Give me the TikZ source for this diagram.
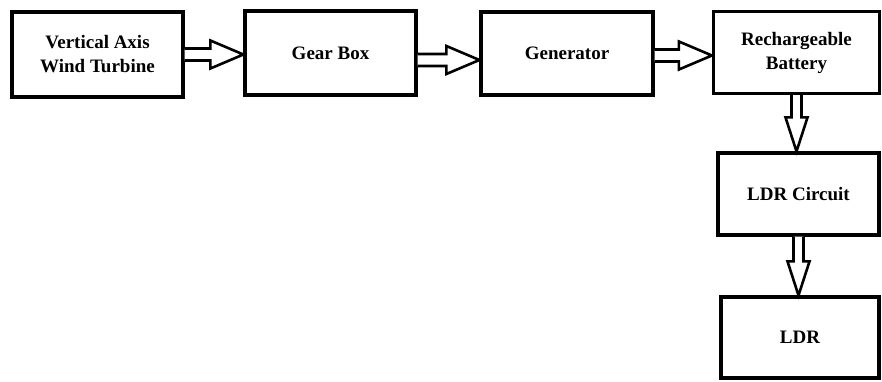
\documentclass[tikz,border=0pt]{standalone}
\usepackage{fontspec}
\setmainfont{Liberation Serif}
\usetikzlibrary{calc}

\tikzset{
  block/.style={draw, line width=3.2pt, fill=white, align=center,
    font=\fontsize{19}{24}\selectfont\bfseries, inner sep=0pt},
  fat/.style={draw, line width=2.6pt, line join=miter, fill=white}
}

% hollow block arrows: horizontal (from, to, vertical offset) and vertical (from, to)
\newcommand\harrow[3]{%
  \draw[fat] let \p1=(#1.east), \p2=(#2.west), \n1={\y1+#3} in
    (\x1,\n1+6pt) -- (\x2-33pt,\n1+6pt) -- (\x2-33pt,\n1+14pt) -- (\x2,\n1)
    -- (\x2-33pt,\n1-14pt) -- (\x2-33pt,\n1-6pt) -- (\x1,\n1-6pt);}
\newcommand\varrow[2]{%
  \draw[fat] let \p1=(#1.south), \p2=(#2.north) in
    (\x1-5pt,\y1) -- (\x1-5pt,\y2+34pt) -- (\x1-11pt,\y2+34pt) -- (\x1,\y2)
    -- (\x1+11pt,\y2+34pt) -- (\x1+5pt,\y2+34pt) -- (\x1+5pt,\y1);}

\begin{document}
\begin{tikzpicture}[x=1pt, y=-1pt]
  \useasboundingbox (0,0) rectangle (882,381);

  \node[block, minimum width=171pt, minimum height=85pt] (vawt) at (97.5,54.5)
    {Vertical Axis\\Wind Turbine};
  \node[block, minimum width=171pt, minimum height=84pt] (gear) at (330.5,53) {Gear Box};
  \node[block, minimum width=172pt, minimum height=83pt] (gen) at (567,53.5) {Generator};
  \node[block, minimum width=166pt, minimum height=82pt] (bat) at (796.5,52.5)
    {Rechargeable\\Battery};
  \node[block, minimum width=161pt, minimum height=82pt] (ldrc) at (798.5,194) {LDR Circuit};
  \node[block, minimum width=158pt, minimum height=81pt] (ldr) at (800,337.5) {LDR};

  \harrow{vawt}{gear}{0pt}
  \harrow{gear}{gen}{-7pt}
  \harrow{gen}{bat}{-2pt}
  \varrow{bat}{ldrc}
  \varrow{ldrc}{ldr}
\end{tikzpicture}
\end{document}
